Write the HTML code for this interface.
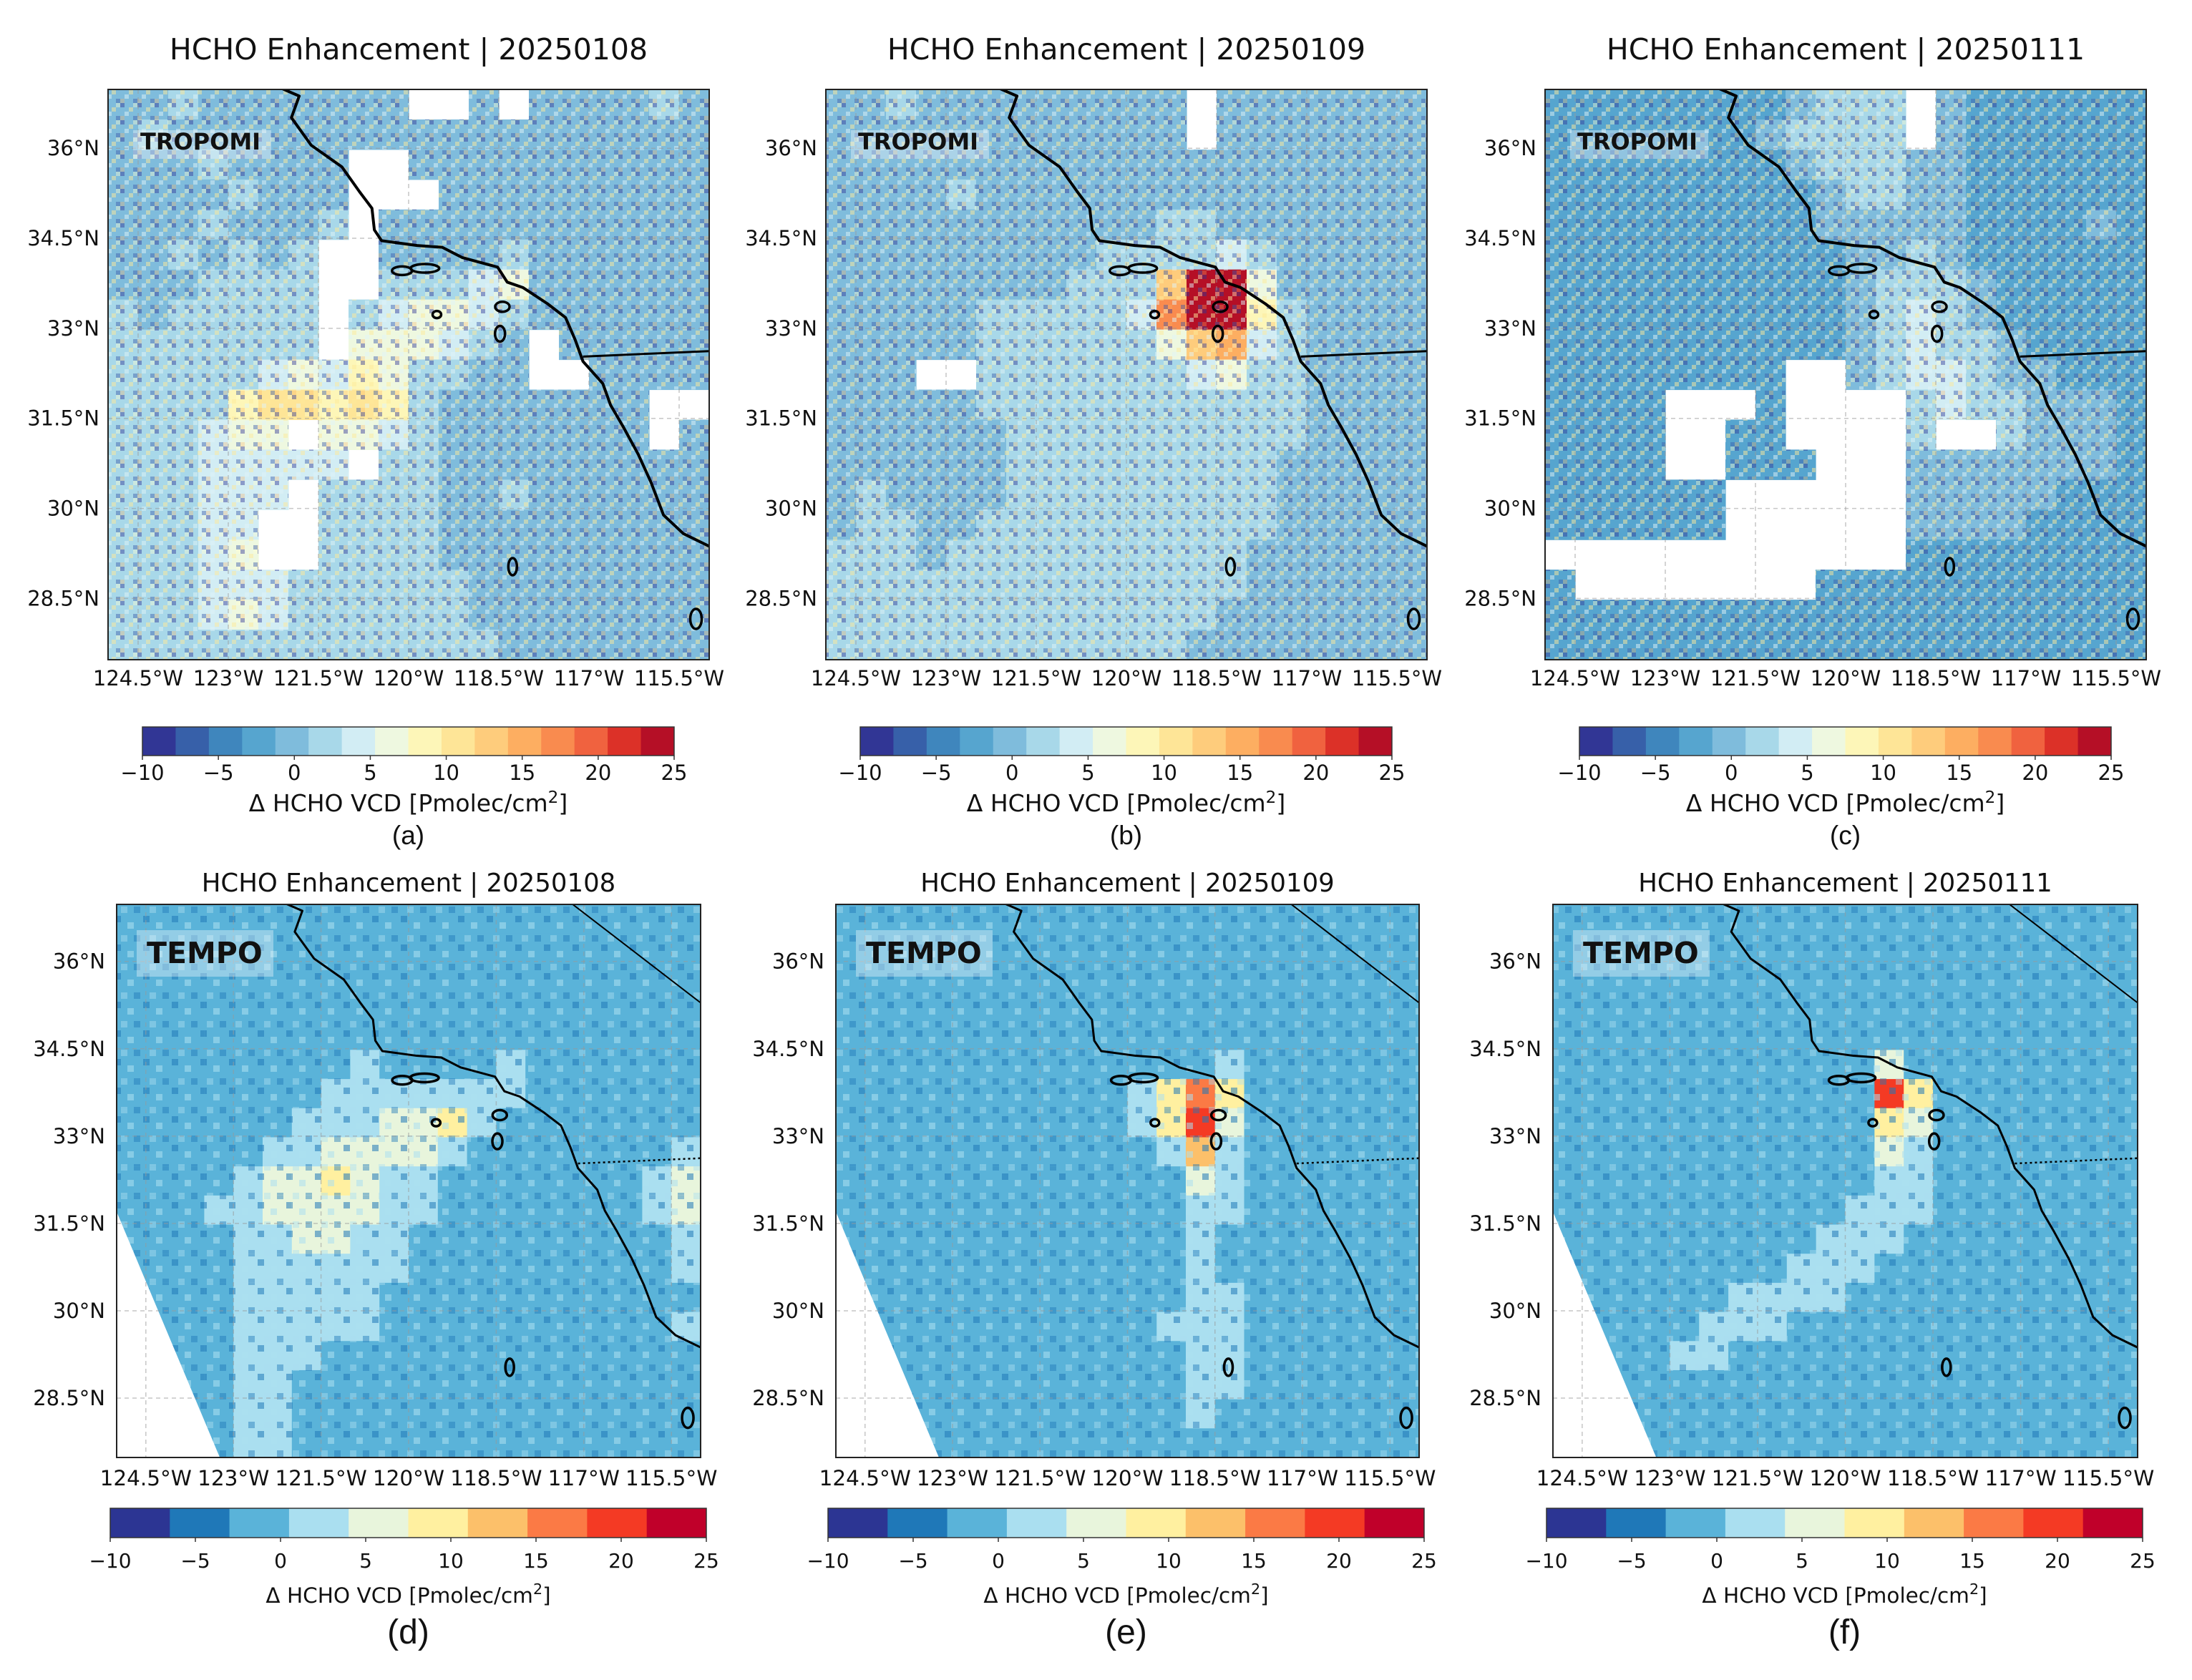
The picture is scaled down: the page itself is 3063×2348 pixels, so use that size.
<!DOCTYPE html>
<html><head><meta charset="utf-8">
<style>
html,body{margin:0;padding:0;background:#fff;}
svg{display:block;}
text{font-family:"DejaVu Sans","Liberation Sans",sans-serif;fill:#111;}
</style></head>
<body>
<svg id="fig" width="3063" height="2348" viewBox="0 0 3063 2348" xmlns="http://www.w3.org/2000/svg">
<defs>
<pattern id="speckT" width="24" height="24" patternUnits="userSpaceOnUse">
<rect x="0" y="0" width="6" height="6" fill="#313695" opacity="0.45"/>
<rect x="12" y="6" width="6" height="6" fill="#fee99a" opacity="0.5"/>
<rect x="6" y="12" width="6" height="6" fill="#e0f3f8" opacity="0.5"/>
<rect x="18" y="18" width="6" height="6" fill="#3b5ba8" opacity="0.45"/>
<rect x="18" y="0" width="6" height="6" fill="#ffffd0" opacity="0.4"/>
<rect x="0" y="18" width="6" height="6" fill="#fdb062" opacity="0.3"/>
</pattern>
<pattern id="speckM" width="40" height="40" patternUnits="userSpaceOnUse">
<rect x="0" y="0" width="9" height="9" fill="#1f78b8" opacity="0.55"/>
<rect x="18" y="9" width="9" height="9" fill="#aadff0" opacity="0.55"/>
<rect x="27" y="27" width="9" height="9" fill="#1f78b8" opacity="0.45"/>
<rect x="9" y="27" width="9" height="9" fill="#aadff0" opacity="0.45"/>
</pattern>
</defs>
</svg>
<script>
// ===== data =====
const latTicks = [36, 34.5, 33, 31.5, 30, 28.5];
const lonTicks = [-124.5, -123, -121.5, -120, -118.5, -117, -115.5];
const lonTickLabels = ["124.5°W","123°W","121.5°W","120°W","118.5°W","117°W","115.5°W"];
const latTickLabels = ["36°N","34.5°N","33°N","31.5°N","30°N","28.5°N"];
const cbTicks = [-10, -5, 0, 5, 10, 15, 20, 25];
const cbTickLabels = ["\u221210","\u22125","0","5","10","15","20","25"];
const dates = ["20250108","20250109","20250111"];
const panelLetters = ["(a)","(b)","(c)","(d)","(e)","(f)"];
const tropomiColors = ["#313695","#3760a9","#3f86bd","#56a5cf","#7fbcdc","#a8d8e9","#d2edf4","#eef8e0","#fdf6b8","#fee597","#fecc7c","#fdae61","#f98b4f","#f0623f","#dc3128","#b50f26"];
const tempoColors = ["#2c3593","#1f78b8","#5ab3d9","#aadff0","#e8f5dc","#fff0a0","#fcc06a","#fb7a45","#f43a24","#c0002a"];
const coastLon = [-122.12,-121.82,-121.95,-121.62,-121.11,-120.82,-120.61,-120.57,-120.45,-119.86,-119.44,-119.11,-118.52,-118.36,-118.10,-117.69,-117.39,-117.23,-117.10,-116.77,-116.64,-116.43,-116.18,-115.97,-115.76,-115.43,-115.0];
const coastLat = [37.0,36.87,36.51,36.05,35.69,35.28,35.00,34.64,34.46,34.38,34.35,34.18,34.02,33.77,33.68,33.41,33.18,32.81,32.45,32.08,31.72,31.36,30.90,30.44,29.89,29.58,29.37];
const borderLon = [-117.1, -115.0];
const borderLat = [32.53, 32.62];
const nvLon = [-117.19, -115.0];
const nvLat = [36.98, 35.29];
const islandLon = [-120.11,-119.73,-119.53,-118.44,-118.48,-118.27,-115.22];
const islandLat = [33.96,34.0,33.23,33.36,32.91,29.03,28.16];
const islandRx = [14,20,6,10,7,6,8];
const islandRy = [6,6,5,7,11,12,14];
const swathLon = [-125, -125, -123.2];
const swathLat = [31.7, 27.4, 27.4];

const gridA = [
[0,0,1,0,0,0,0,0,0,-1,null,null,0,null,-1,-1,0,0,1,0],
[0,1,0,0,0,0,0,0,0,-1,-1,-1,-1,0,-1,-1,0,0,0,0],
[0,0,0,1,0,0,0,0,null,null,-1,-1,-1,-1,-1,-1,0,-1,0,0],
[0,0,0,0,1,0,0,0,null,null,null,-1,-1,-1,-1,0,-1,0,-1,0],
[0,0,0,1,0,0,0,1,null,0,-1,-1,-1,0,-1,0,-1,0,-1,0],
[0,0,1,0,1,0,1,null,null,-1,-1,-1,-1,1,-1,-1,-1,0,0,0],
[0,0,0,1,1,1,2,null,null,1,1,3,5,6,-1,-1,-1,0,0,0],
[1,0,1,1,1,1,3,null,3,5,6,7,4,2,0,-1,-1,0,0,0],
[1,1,1,1,2,2,3,null,6,7,6,4,2,0,null,0,-1,-1,0,0],
[1,1,1,2,3,4,6,5,8,7,3,1,0,0,null,null,-1,0,0,-1],
[1,1,2,3,9,11,10,9,11,8,2,-1,-1,0,0,-1,0,-1,null,null],
[1,1,2,4,6,7,null,6,7,4,2,-1,0,0,0,0,-1,0,null,0],
[1,1,3,4,5,5,4,4,null,3,1,0,0,0,0,0,-1,0,0,0],
[1,2,3,4,4,5,null,3,2,2,1,0,0,1,0,0,0,-1,0,0],
[2,2,3,4,5,null,null,2,1,1,1,0,0,0,0,0,0,0,0,0],
[2,3,3,4,6,null,null,3,1,1,1,0,0,0,0,0,0,0,0,0],
[2,2,3,4,5,4,3,3,2,1,1,1,0,0,0,0,0,0,0,0],
[2,3,3,5,6,4,3,3,2,1,1,1,0,0,0,0,0,0,0,0],
[2,2,3,3,3,3,2,2,2,1,1,1,1,0,0,0,0,0,0,0]];
const gridB = [
[0,0,1,0,0,0,0,0,0,0,0,0,null,0,0,0,0,0,0,0],
[0,0,0,0,0,0,0,0,0,0,0,0,null,0,0,0,0,0,0,0],
[0,0,0,0,0,0,0,0,0,0,0,0,0,0,0,0,0,0,0,0],
[0,0,0,0,1,0,0,0,0,0,0,0,0,0,0,0,0,0,0,0],
[0,0,0,0,0,0,0,0,0,0,0,1,1,0,0,0,0,0,0,0],
[0,0,0,0,0,0,0,0,0,1,1,2,3,5,1,0,0,0,0,0],
[0,0,0,0,0,0,0,0,1,1,2,14,23,25,6,0,0,0,0,0],
[-1,0,0,0,0,1,1,1,1,2,5,17,25,24,8,1,0,0,0,0],
[0,0,0,0,0,1,1,1,1,2,3,6,14,16,5,1,0,0,0,0],
[0,0,0,null,null,1,1,1,1,2,2,2,5,6,3,1,0,0,0,0],
[0,0,0,0,0,1,1,1,1,2,2,2,3,3,2,1,0,0,0,0],
[0,0,0,0,0,0,1,1,1,1,2,2,2,2,1,1,0,0,0,0],
[0,0,0,0,0,0,1,1,1,1,1,2,2,2,1,0,0,0,0,0],
[0,1,0,0,0,0,1,1,1,1,1,2,2,1,1,0,0,0,0,0],
[0,1,1,0,0,1,1,1,1,1,2,2,2,1,1,0,0,0,0,0],
[1,1,1,0,1,1,1,1,1,1,2,2,2,1,0,0,0,0,0,0],
[1,1,1,1,1,1,1,1,1,1,1,1,1,1,0,0,0,0,0,0],
[1,1,1,1,1,1,1,1,1,1,1,1,1,0,0,0,0,0,0,0],
[1,1,1,1,1,1,1,1,1,1,1,1,0,0,0,0,0,0,0,0]];
const gridC = [
[-2,-2,-2,-2,-2,-2,-2,-2,0,1,2,2,null,0,-2,-2,-2,-2,-2,-2],
[-2,-2,-2,-2,-2,-2,-2,0,1,1,1,1,null,0,-2,-2,-2,-2,-2,-2],
[-2,-2,-2,-2,-2,-2,-2,-2,0,1,1,1,0,0,-2,-2,-2,-2,-2,-2],
[-2,-2,-2,-2,-2,-2,-2,-2,-2,0,1,1,0,-1,-2,-2,-2,-2,-2,-2],
[-2,-2,-2,-2,-2,-2,-2,-2,-2,-1,0,0,0,-1,-2,-2,-2,-2,0,-2],
[-2,-2,-2,-2,-2,-2,-2,-2,-2,-2,-1,0,1,0,-2,-2,-2,-2,-2,-2],
[-2,-2,-2,-2,-2,-2,-2,-2,-2,-2,0,1,3,2,-1,-2,-2,-2,-2,-2],
[-2,-2,-2,-2,-2,-2,-2,-2,-2,-2,0,2,4,2,0,-2,-2,-2,-2,-2],
[-2,-2,-2,-2,-2,-2,-2,-2,-2,-2,-1,2,4,3,1,0,-2,-2,-2,-2],
[-2,-2,-2,-2,-2,-2,-2,-2,null,null,-1,1,5,4,2,0,-1,-2,-2,-2],
[-2,-2,-2,-2,null,null,null,-2,null,null,null,null,3,4,2,1,0,-1,0,-2],
[-2,-2,-2,-2,null,null,-2,-2,null,null,null,null,1,null,null,1,0,0,0,-2],
[-2,-2,-2,-2,null,null,-2,-2,-2,null,null,null,0,0,0,0,0,-1,-1,-2],
[-2,-2,-2,-2,-2,-2,null,null,null,null,null,null,-1,-1,0,0,-1,-2,-2,-2],
[-2,-2,-2,-2,-2,-2,null,null,null,null,null,null,-1,-1,-1,-1,-2,-2,-2,-2],
[null,null,null,null,null,null,null,null,null,null,null,null,-2,-2,-2,-2,-2,-2,-2,-2],
[-2,null,null,null,null,null,null,null,null,-2,-2,-2,-2,-2,-2,-2,-2,-2,-2,-2],
[-2,-2,-2,-2,-2,-2,-2,-2,-2,-2,-2,-2,-2,-2,-2,-2,-2,-2,-2,-2],
[-2,-2,-2,-2,-2,-2,-2,-2,-2,-2,-2,-2,-2,-2,-2,-2,-2,-2,-2,-2]];
const gridD = [
[-1,-1,-1,-1,-1,-1,-1,-2,-2,-2,-2,-2,-2,-2,-1,-2,-2,-2,-2,-2],
[-1,-1,-1,-1,-1,-1,-1,-2,-2,-2,-2,-2,-2,-2,-2,-2,-2,-2,-2,-2],
[-1,-1,-1,-1,-1,-1,-1,-1,-2,-2,-2,-2,-2,-2,-2,-2,-2,-2,-2,-2],
[-1,-1,-1,-1,-1,-1,-1,-1,-1,-2,-2,-2,-2,-2,-2,-2,-2,-2,-2,-2],
[-1,-1,-1,-1,-1,-1,-1,0,-1,-1,-2,-2,-2,-2,-2,-1,-2,-2,-2,-2],
[-1,-1,-1,-1,-1,-1,-1,0,1,-1,-1,-1,-1,2,-2,-2,-2,-2,-2,-2],
[-1,-1,-1,-1,-1,-1,0,1,1,1,2,3,2,1,-2,-2,-2,-2,-2,-1],
[-1,-1,-1,-1,-1,0,1,2,3,4,6,9,2,-1,0,-2,-2,-2,-1,-1],
[-1,-1,-1,-1,0,1,3,4,5,6,7,3,0,-1,0,-2,-2,-1,-1,1],
[-1,-1,-1,0,2,5,7,8,6,3,1,0,-1,-1,-1,-1,-1,-1,1,6],
[-1,-1,-1,1,3,6,7,6,4,2,1,0,-1,-1,-1,-1,-1,-1,1,4],
[-1,-1,-1,0,2,3,4,4,3,1,0,-1,-1,-1,-1,-1,-1,-1,0,2],
[-1,-1,-1,0,1,2,3,2,2,1,0,-1,-1,-1,-1,-1,-1,0,0,1],
[-1,-1,-1,0,1,2,2,1,1,0,0,-1,-1,-1,0,-1,-1,-1,0,0],
[-1,-1,-1,0,1,2,2,1,1,0,0,-1,-1,-1,-1,-1,-1,-1,0,1],
[-1,-1,-1,0,1,1,1,0,0,0,-1,-1,-1,-1,-1,-1,-1,-1,0,0],
[-1,-1,-1,0,1,1,0,0,0,-1,-1,-1,-1,-1,-1,-1,-1,-1,-1,0],
[-1,-1,-1,0,1,1,0,0,0,0,-1,-1,-1,-1,-1,-1,-1,-1,-1,-1],
[-1,-1,-1,0,1,1,0,0,0,0,-1,-1,-1,-1,-1,-1,-1,-1,-1,-1]];
const gridE = [
[-1,-1,-1,-1,-1,-1,-1,-2,-2,-2,-2,-2,-2,-2,-2,-2,-2,-2,-2,-2],
[-1,-1,-1,-1,-1,-1,-1,-2,-2,-2,-2,-2,-2,-2,-2,-2,-2,-2,-2,-2],
[-1,-1,-1,-1,-1,-1,-1,-1,-2,-2,-2,-2,-2,-2,-2,-2,-2,-2,-2,-2],
[-1,-1,-1,-1,-1,-1,-1,-1,-1,-2,-2,-2,-2,-2,-2,-2,-2,-2,-2,-2],
[-1,-1,-1,-1,-1,-1,-1,-1,-1,-1,-1,-2,-2,-2,-2,-2,-2,-2,-2,-2],
[-1,-1,-1,-1,-1,-1,-1,-1,-1,-1,-1,-1,-1,2,-2,-2,-2,-2,-2,-2],
[-1,-1,-1,-1,-1,-1,-1,-1,-1,-1,3,9,16,8,-2,-2,-2,-2,-2,-2],
[-1,-1,-1,-1,-1,-1,-1,-1,-1,-1,2,8,21,6,-1,-2,-2,-2,-2,-2],
[-1,-1,-1,-1,-1,-1,-1,-1,-1,-1,0,2,12,3,-1,-1,-2,-1,-1,-1],
[-1,-1,-1,-1,-1,-1,-1,-1,-1,-1,-1,0,4,1,-1,-1,-1,-1,-1,-1],
[-1,-1,-1,-1,-1,-1,-1,-1,-1,-1,-1,0,1,1,-1,-1,-1,-1,-1,-1],
[-1,-1,-1,-1,-1,-1,-1,-1,-1,-1,-1,0,1,0,-1,-1,-1,-1,-1,-1],
[-1,-1,-1,-1,-1,-1,-1,-1,-1,-1,-1,0,1,0,-1,-1,-1,-1,-1,-1],
[-1,-1,-1,-1,-1,-1,-1,-1,-1,-1,-1,0,2,1,-1,-1,-1,-1,-1,-1],
[-1,-1,-1,-1,-1,-1,-1,-1,-1,-1,-1,1,2,1,-1,-1,-1,-1,-1,-1],
[-1,-1,-1,-1,-1,-1,-1,-1,-1,-1,-1,0,2,1,-1,-1,-1,-1,-1,-1],
[-1,-1,-1,0,-1,-1,-1,-1,-1,-1,-1,0,2,1,-1,-1,-1,-1,-1,-1],
[-1,-1,-1,0,0,-1,-1,-1,-1,-1,-1,-1,1,0,-1,-1,-1,-1,-1,-1],
[-1,-1,-1,0,0,-1,-1,-1,-1,-1,-1,-1,0,0,-1,-1,-1,-1,-1,-1]];
const gridF = [
[-1,-1,-1,-1,-1,-1,-1,-2,-2,-2,-2,-2,-2,-2,-2,-2,-2,-2,-2,-2],
[-1,-1,-1,-1,-1,-1,-1,-2,-2,-2,-2,-2,-2,-2,-2,-2,-2,-2,-2,-2],
[-1,-1,-1,-1,-1,-1,-1,-1,-2,-2,-2,-2,-2,-2,-2,-2,-2,-2,-2,-2],
[-1,-1,-1,-1,-1,-1,-1,-1,-1,-2,-2,-2,-2,-2,-2,-2,-2,-2,-2,-2],
[-1,-1,-1,-1,-1,-1,-1,-1,-1,-1,-1,-2,-2,-2,-2,-2,-2,-2,-2,-2],
[-1,-1,-1,-1,-1,-1,-1,-1,-1,-1,-1,5,0,-1,-2,-2,-2,-2,-2,-2],
[-1,-1,-1,-1,-1,-1,-1,-1,-1,-1,0,20,9,-1,-2,-2,-2,-2,-2,-2],
[-1,-1,-1,-1,-1,-1,-1,-1,-1,-1,0,9,4,-1,-1,-2,-2,-2,-2,-2],
[-1,-1,-1,-1,-1,-1,-1,-1,-1,-1,-1,4,2,0,-1,-1,-2,-1,-1,-1],
[-1,-1,-1,-1,-1,-1,-1,-1,-1,-1,-1,2,2,0,-1,-1,-1,-1,-1,-1],
[-1,-1,-1,-1,-1,-1,-1,-1,-1,-1,1,2,1,-1,-1,-1,-1,-1,-1,-1],
[-1,-1,-1,-1,-1,-1,-1,-1,-1,1,2,2,0,-1,-1,-1,-1,-1,-1,-1],
[-1,-1,-1,-1,-1,-1,-1,-1,1,2,2,0,-1,-1,-1,-1,-1,-1,-1,-1],
[-1,-1,-1,-1,-1,-1,1,2,2,1,0,-1,-1,-1,-1,-1,-1,-1,-1,-1],
[-1,-1,-1,-1,-1,1,2,1,0,-1,-1,-1,-1,-1,-1,-1,-1,-1,-1,-1],
[-1,-1,-1,-1,1,1,0,-1,-1,-1,-1,-1,-1,-1,-1,-1,-1,-1,-1,-1],
[-1,-1,-1,0,0,-1,-1,-1,-1,-1,-1,-1,-1,-1,-1,-1,-1,-1,-1,-1],
[-1,-1,-1,0,-1,-1,-1,-1,-1,-1,-1,-1,-1,-1,-1,-1,-1,-1,-1,-1],
[-1,-1,-1,-1,-1,-1,-1,-1,-1,-1,-1,-1,-1,-1,-1,-1,-1,-1,-1,-1]];

// ===== layout =====
const NS = "http://www.w3.org/2000/svg";
const svg = document.getElementById("fig");
const LON0 = -125, LON1 = -115, LAT0 = 27.48, LAT1 = 36.98, CELL = 0.5, VMIN = -10, VMAX = 25;
const panels = [
 {grid: gridA, x:151, y:125, w:840, h:797, kind:"T", date:0, cb:{x:199,y:1016,w:743,h:40}},
 {grid: gridB, x:1154, y:125, w:840, h:797, kind:"T", date:1, cb:{x:1202,y:1016,w:743,h:40}},
 {grid: gridC, x:2159, y:125, w:840, h:797, kind:"T", date:2, cb:{x:2207,y:1016,w:743,h:40}},
 {grid: gridD, x:163, y:1264, w:816, h:773, kind:"M", date:0, cb:{x:154,y:2108,w:833,h:41}},
 {grid: gridE, x:1168, y:1264, w:815, h:773, kind:"M", date:1, cb:{x:1157,y:2108,w:833,h:41}},
 {grid: gridF, x:2170, y:1264, w:817, h:773, kind:"M", date:2, cb:{x:2161,y:2108,w:833,h:41}}
];
function mk(tag, attrs, parent) {
  const el = document.createElementNS(NS, tag);
  for (const k in attrs) el.setAttribute(k, attrs[k]);
  (parent || svg).appendChild(el);
  return el;
}
function binColor(v, colors) {
  let i = Math.floor((v - VMIN) / (VMAX - VMIN) * colors.length);
  i = Math.max(0, Math.min(colors.length - 1, i));
  return colors[i];
}

panels.forEach((p, pi) => {
  const T = p.kind === "T";
  const colors = T ? tropomiColors : tempoColors;
  const xS = lon => p.x + (lon - LON0) / (LON1 - LON0) * p.w;
  const yS = lat => p.y + (LAT1 - lat) / (LAT1 - LAT0) * p.h;
  const g = mk("g", {});
  
  
  const cp = mk("clipPath", {id: "clip" + pi}, g);
  mk("rect", {x: p.x, y: p.y, width: p.w, height: p.h}, cp);
  const hm = mk("g", {"clip-path": "url(#clip" + pi + ")"}, g);
  
  
  p.grid.forEach((row, r) => {
    row.forEach((v, c) => {
      if (v === null) return;
      const x0 = xS(LON0 + c * CELL), x1 = xS(LON0 + (c + 1) * CELL);
      const y0 = yS(LAT1 - r * CELL), y1 = yS(LAT1 - (r + 1) * CELL);
      const cell = mk("rect", {x: x0, y: y0, width: x1 - x0 + 0.6, height: y1 - y0 + 0.6, fill: binColor(v, colors)}, hm);
      
      
      const sp = mk("rect", {x: x0, y: y0, width: x1 - x0, height: y1 - y0, fill: T ? "url(#speckT)" : "url(#speckM)"}, hm);
      
      
    });
  });
  if (!T) {
    const pts = swathLon.map((lo, i) => xS(lo) + "," + yS(swathLat[i])).join(" ");
    const sw = mk("polygon", {points: pts, fill: "#fff"}, hm);
    
    
  }
  lonTicks.forEach(lo => {
    const gl = mk("line", {x1: xS(lo), x2: xS(lo), y1: p.y, y2: p.y + p.h, stroke: "#999", "stroke-width": 1.5, "stroke-dasharray": "6,5", opacity: 0.55}, hm);
    
    
  });
  latTicks.forEach(la => {
    const gl = mk("line", {x1: p.x, x2: p.x + p.w, y1: yS(la), y2: yS(la), stroke: "#999", "stroke-width": 1.5, "stroke-dasharray": "6,5", opacity: 0.55}, hm);
    
    
  });
  const cpts = coastLon.map((lo, i) => xS(lo) + "," + yS(coastLat[i])).join(" ");
  const coast = mk("polyline", {points: cpts, fill: "none", stroke: "#000", "stroke-width": T ? 4 : 3, "stroke-linejoin": "round"}, hm);
  
  
  const bpts = borderLon.map((lo, i) => xS(lo) + "," + yS(borderLat[i])).join(" ");
  const border = mk("polyline", {points: bpts, fill: "none", stroke: "#000", "stroke-width": T ? 3 : 2.5, "stroke-dasharray": T ? "none" : "3,4"}, hm);
  
  
  if (!T) {
    const npts = nvLon.map((lo, i) => xS(lo) + "," + yS(nvLat[i])).join(" ");
    const nv = mk("polyline", {points: npts, fill: "none", stroke: "#000", "stroke-width": 2}, hm);
    
    
  }
  islandLon.forEach((lo, i) => {
    const isl = mk("ellipse", {cx: xS(lo), cy: yS(islandLat[i]), rx: islandRx[i], ry: islandRy[i], fill: "none", stroke: "#000", "stroke-width": 3.5}, hm);
    
    
  });
  const lb = mk("rect", {x: p.x + (T ? 35 : 28), y: p.y + (T ? 57 : 36), width: T ? 193 : 191, height: T ? 40 : 65, fill: "#fff", opacity: 0.35}, g);
  
  
  const lt = mk("text", {x: p.x + (T ? 45 : 42), y: p.y + (T ? 84 : 82), "font-size": T ? 32 : 41, "font-weight": "bold"}, g);
  lt.textContent = T ? "TROPOMI" : "TEMPO";
  
  
  const fr = mk("rect", {x: p.x, y: p.y, width: p.w, height: p.h, fill: "none", stroke: "#222", "stroke-width": 2}, g);
  
  
  const tt = mk("text", {x: p.x + p.w / 2, y: T ? 83 : 1246, "text-anchor": "middle", "font-size": T ? 41 : 35.5}, g);
  tt.textContent = "HCHO Enhancement | " + dates[p.date];
  
  
  latTicks.forEach((la, i) => {
    const t = mk("text", {x: p.x - (T ? 12 : 16), y: yS(la) + 10, "text-anchor": "end", "font-size": 29}, g);
    t.textContent = latTickLabels[i];
    
    
  });
  lonTicks.forEach((lo, i) => {
    const t = mk("text", {x: xS(lo), y: T ? 958 : 2076, "text-anchor": "middle", "font-size": T ? 29 : 29.5}, g);
    t.textContent = lonTickLabels[i];
    
    
  });
  const cb = p.cb;
  const cg = mk("g", {}, g);
  
  
  const bw = cb.w / colors.length;
  colors.forEach((col, i) => {
    const r = mk("rect", {x: cb.x + i * bw, y: cb.y, width: bw + 0.5, height: cb.h, fill: col}, cg);
    
    
  });
  mk("rect", {x: cb.x, y: cb.y, width: cb.w, height: cb.h, fill: "none", stroke: "#333", "stroke-width": 1.5}, cg);
  const cx = v => cb.x + (v - VMIN) / (VMAX - VMIN) * cb.w;
  cbTicks.forEach((v, i) => {
    mk("line", {x1: cx(v), x2: cx(v), y1: cb.y + cb.h, y2: cb.y + cb.h + 6, stroke: "#333", "stroke-width": 1.5}, cg);
    const t = mk("text", {x: cx(v), y: T ? 1090 : 2191, "text-anchor": "middle", "font-size": T ? 29 : 28}, cg);
    t.textContent = cbTickLabels[i];
    
    
  });
  const cl = mk("text", {x: cb.x + cb.w / 2, y: T ? 1134 : 2240, "text-anchor": "middle", "font-size": T ? 33 : 29.5}, cg);
  cl.innerHTML = 'Δ HCHO VCD [Pmolec/cm<tspan dy="-12" font-size="0.7em">2</tspan><tspan dy="12">]</tspan>';
  
  
  const pl = mk("text", {x: cb.x + cb.w / 2, y: T ? 1180 : 2297, "text-anchor": "middle", "font-size": T ? 37 : 48, style: 'font-family:"Liberation Sans",sans-serif'}, g);
  pl.textContent = panelLetters[pi];
  
  
});
</script>
</body></html>
